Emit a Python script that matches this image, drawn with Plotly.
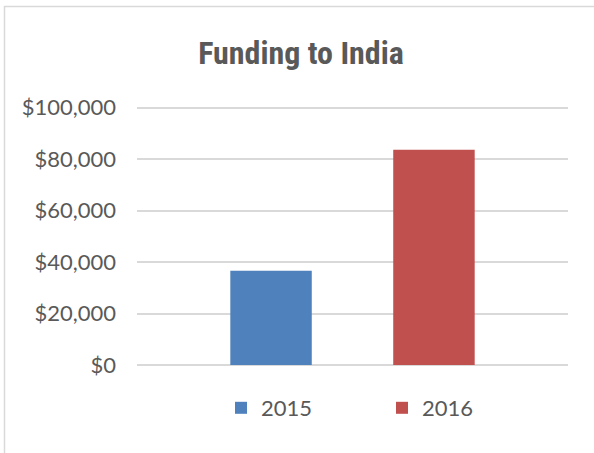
import plotly.graph_objects as go

category = ["Funding to India"]
years = ["2015", "2016"]
funding = [36600, 83600]
colors = ["#4F81BD", "#C0504D"]
y_ticks = [0, 20000, 40000, 60000, 80000, 100000]
y_tick_text = ["$0", "$20,000", "$40,000", "$60,000", "$80,000", "$100,000"]

fig = go.Figure()
for yr, val, col in zip(years, [[funding[0]], [funding[1]]], colors):
    fig.add_trace(go.Bar(x=category, y=val, name=yr, marker=dict(color=col, line=dict(width=0))))

W, H = 594, 453
ml, mr, mt, mb = 137, 26, 104, 88
pw, ph = W - ml - mr, H - mt - mb
y_max = 100000 * ph / 257.5

def px_x(x):
    return (x - ml) / pw

def px_y(y):
    return 1 - (y - mt) / ph

fig.update_layout(
    width=W, height=H,
    margin=dict(l=ml, r=mr, t=mt, b=mb, pad=0),
    paper_bgcolor="white", plot_bgcolor="white",
    barmode="group", bargap=0.244, bargroupgap=0.5,
    title=dict(text="<b>Funding to India</b>", x=px_x(301), xref="paper", xanchor="center",
               y=1 - 53 / H, yanchor="middle", yref="container",
               font=dict(family="Roboto Condensed, Open Sans Condensed, DejaVu Sans Condensed, sans-serif",
                         size=32, color="#595959")),
    font=dict(family="Lato, sans-serif", color="#595959", size=22),
    xaxis=dict(showticklabels=False, showgrid=False, zeroline=False, showline=False, ticks=""),
    yaxis=dict(range=[0, y_max], tickvals=y_ticks, ticktext=y_tick_text,
               showgrid=True, gridcolor="#D9D9D9", gridwidth=1.5,
               zeroline=True, zerolinecolor="#D9D9D9", zerolinewidth=1.5,
               showline=False, ticks="", ticklabelstandoff=20,
               tickfont=dict(family="Lato, sans-serif", size=22, color="#595959")),
    showlegend=True,
    legend=dict(orientation="h", x=px_x(221), xanchor="left", y=px_y(408), yanchor="middle",
                font=dict(family="Lato, sans-serif", size=22, color="#595959"),
                itemwidth=30, entrywidth=116, bgcolor="rgba(0,0,0,0)"),
    shapes=[dict(type="path", xref="paper", yref="paper",
                 path=f"M {px_x(4.5)},{px_y(470)} L {px_x(4.5)},{px_y(6.5)} L {px_x(600)},{px_y(6.5)}",
                 line=dict(color="#D9D9D9", width=1.5), layer="below")],
)

fig.write_html("out.html", config={"displayModeBar": False},
               post_script="document.body.style.margin='0';")
